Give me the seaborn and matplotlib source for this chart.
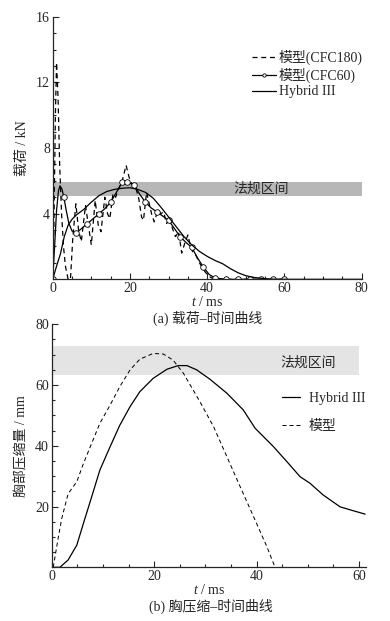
import numpy as np
import seaborn as sns
import matplotlib.pyplot as plt
from matplotlib.ticker import MultipleLocator

# ---- (a) load - time ----
t_cfc180 = [0.0, 0.3, 0.7, 1.0, 1.4, 1.8, 2.3, 2.8, 3.3, 4.0, 4.6, 5.2, 6.0, 6.7, 7.4,
            8.5, 9.3, 10.0, 11.0, 11.8, 12.5, 13.5, 14.2, 14.8, 15.6, 16.3, 17.0, 18.0,
            19.0, 19.8, 20.7, 21.5, 22.3, 23.0, 23.5, 24.3, 25.0, 25.7, 26.3, 27.2, 28.0,
            28.7, 29.5, 30.3, 31.0, 31.8, 32.6, 33.4, 34.2, 35.0, 35.5, 36.2, 37.0, 38.0,
            39.0, 40.0, 41.0, 42.0, 60.0]
f_cfc180 = [0.0, 3.0, 10.0, 13.2, 11.0, 7.0, 4.0, 2.0, 0.8, 0.0, 0.0, 2.5, 4.6, 3.0, 2.3,
            4.5, 3.2, 2.1, 4.8, 3.3, 2.9, 5.0, 4.0, 3.7, 5.2, 5.0, 5.5, 6.0,
            6.95, 6.2, 5.7, 5.6, 4.9, 3.8, 3.6, 5.3, 4.6, 3.9, 3.5, 4.2, 4.0,
            4.1, 3.4, 3.8, 3.1, 2.6, 2.9, 1.6, 2.2, 2.7, 2.2, 1.7, 1.5, 1.0,
            0.6, 0.3, 0.1, 0.0, 0.0]

t_cfc60 = [0.0, 0.5, 1.0, 1.5, 1.9, 2.4, 2.9, 3.5, 4.2, 5.0, 6.0, 7.5, 9.0, 10.5, 12.0,
           13.5, 15.0, 16.5, 18.0, 19.2, 21.0, 22.5, 24.0, 25.5, 27.0, 28.5, 30.0, 31.5,
           33.0, 34.5, 36.0, 37.5, 39.0, 40.5, 42.0, 45.0, 48.0, 51.0, 54.0, 57.0, 60.0]
f_cfc60 = [0.0, 2.0, 4.2, 5.4, 5.7, 5.5, 5.0, 4.2, 3.4, 2.95, 2.8, 3.1, 3.4, 3.7, 4.0,
           4.3, 4.7, 5.3, 5.9, 5.95, 5.75, 5.2, 4.7, 4.35, 4.1, 3.85, 3.6, 3.1,
           2.6, 2.25, 1.95, 1.3, 0.75, 0.3, 0.08, 0.0, 0.0, 0.0, 0.0, 0.0, 0.0]
t_cfc60_marks = [0.0, 2.9, 6.0, 9.0, 12.0, 15.0, 18.0, 19.2, 21.0, 24.0, 27.0, 30.0, 33.0,
                 36.0, 39.0, 42.0, 45.0, 48.0, 51.0, 54.0, 57.0, 60.0]

t_h3_a = [0, 1, 2, 3, 4, 5, 6, 8, 10, 12, 14, 16, 18, 20, 22, 24, 26, 28, 30, 32, 34,
          36, 38, 40, 42, 44, 46, 48, 50, 52, 54, 56, 58, 80]
f_h3_a = [0.0, 0.8, 1.55, 2.6, 3.3, 3.65, 3.9, 4.25, 4.7, 5.1, 5.35, 5.48, 5.55, 5.58,
          5.48, 5.3, 4.95, 4.4, 3.8, 3.2, 2.6, 2.1, 1.7, 1.4, 1.15, 0.95, 0.65, 0.4,
          0.22, 0.12, 0.06, 0.02, 0.0, 0.0]
band_a = (5.1, 5.9)

# ---- (b) chest deflection - time ----
t_h3_b = [0.0, 1.6, 3.2, 4.9, 6.2, 7.8, 9.4, 11.4, 13.3, 15.3, 17.2, 19.8, 22.5, 24.7,
          26.4, 28.3, 30.9, 34.2, 37.4, 39.7, 43.3, 45.9, 48.5, 50.4, 53.0, 56.3, 58.9, 61.2]
d_h3_b = [0.0, 0.0, 2.4, 7.3, 14.5, 23.2, 32.0, 39.7, 46.8, 52.9, 57.8, 62.2, 65.2, 66.4,
          66.4, 65.0, 61.9, 57.3, 51.8, 45.8, 39.7, 34.8, 29.8, 27.7, 23.8, 19.9, 18.6, 17.5]
t_model_b = [0.3, 1.3, 1.95, 3.2, 4.9, 6.2, 7.8, 9.4, 11.4, 13.3, 15.3, 17.2, 19.8, 21.8,
             23.7, 25.7, 27.6, 29.0, 31.6, 34.2, 36.8, 39.4, 42.0, 43.6]
d_model_b = [0.0, 10.0, 16.0, 24.2, 28.2, 34.2, 40.8, 47.4, 53.4, 59.5, 65.0, 68.5, 70.4,
             70.2, 68.2, 63.9, 58.4, 54.3, 46.3, 36.4, 26.5, 16.7, 6.8, 0.0]
band_b = (63.3, 72.9)

sns.set_style("ticks")
plt.rcParams['font.family'] = ['Liberation Serif', 'Noto Sans CJK SC']
plt.rcParams['mathtext.fontset'] = 'custom'
plt.rcParams['mathtext.it'] = 'Liberation Serif:italic'
plt.rcParams['mathtext.rm'] = 'Liberation Serif'
fs = 10

fig = plt.figure(figsize=(3.9, 6.21), dpi=100)
ax1 = fig.add_axes([0.1351, 0.5502, 0.7923, 0.4229])
ax2 = fig.add_axes([0.1326, 0.0865, 0.8051, 0.3913])

lw = 0.9
ax1.axhspan(band_a[0], band_a[1], xmin=0, xmax=1, color='#b7b7b7', lw=0, zorder=0)
sns.lineplot(x=t_cfc180, y=f_cfc180, ax=ax1, color='black', lw=lw, sort=False,
             dashes=False, linestyle=(0, (4, 3)), label='模型(CFC180)')
marks = list(np.where(np.isin(t_cfc60, t_cfc60_marks))[0])
sns.lineplot(x=t_cfc60, y=f_cfc60, ax=ax1, color='black', lw=lw, sort=False,
             marker='o', markevery=marks, markersize=4, markerfacecolor='white',
             markeredgecolor='black', markeredgewidth=0.6, label='模型(CFC60)')
sns.lineplot(x=t_h3_a, y=f_h3_a, ax=ax1, color='black', lw=lw, sort=False,
             label='Hybrid III')
ax1.text(54, 5.48, '法规区间', fontsize=fs, ha='center', va='center')

ax1.set_xlim(0, 80)
ax1.set_ylim(0, 16)
ax1.set_xticks([0, 20, 40, 60, 80])
ax1.set_yticks([4, 8, 12, 16])
ax1.xaxis.set_minor_locator(MultipleLocator(5))
ax1.yaxis.set_minor_locator(MultipleLocator(1))
ax1.set_xlabel('$t$ / ms', fontsize=fs, labelpad=0)
ax1.set_ylabel('载荷 / kN', fontsize=fs, labelpad=5)
ax1.legend(loc='upper left', bbox_to_anchor=(0.644, 0.875), frameon=False, fontsize=fs,
           handlelength=1.75, handletextpad=0.2, labelspacing=0.2, borderpad=0,
           borderaxespad=0, markerscale=0.6)
fig.text(0.532, 1 - 318.5 / 621, '(a) 载荷–时间曲线', fontsize=fs, ha='center', va='center')

ax2.axhspan(band_b[0], band_b[1], xmin=0, xmax=60 / 61.3, color='#e4e4e4', lw=0, zorder=0)
sns.lineplot(x=t_h3_b, y=d_h3_b, ax=ax2, color='black', lw=lw, sort=False,
             label='Hybrid III')
sns.lineplot(x=t_model_b, y=d_model_b, ax=ax2, color='black', lw=lw * 0.8, sort=False,
             linestyle=(0, (4, 3)), label='模型')
ax2.text(50.1, 67.2, '法规区间', fontsize=fs, ha='center', va='center')

ax2.set_xlim(0, 61.3)
ax2.set_ylim(0, 80)
ax2.set_xticks([0, 20, 40, 60])
ax2.set_yticks([20, 40, 60, 80])
ax2.xaxis.set_minor_locator(MultipleLocator(5))
ax2.yaxis.set_minor_locator(MultipleLocator(5))
ax2.set_xlabel('$t$ / ms', fontsize=fs, labelpad=0)
ax2.set_ylabel('胸部压缩量 / mm', fontsize=fs, labelpad=5)
ax2.legend(loc='upper left', bbox_to_anchor=(0.7325, 0.722), frameon=False, fontsize=fs,
           handlelength=1.35, handletextpad=0.6, labelspacing=1.1, borderpad=0,
           borderaxespad=0)
fig.text(0.54, 1 - 606.7 / 621, '(b) 胸压缩–时间曲线', fontsize=fs, ha='center', va='center')

for ax in (ax1, ax2):
    sns.despine(ax=ax)
    ax.tick_params(which='both', direction='in', labelsize=fs, width=0.8, pad=2)
    ax.tick_params(which='major', length=4)
    ax.tick_params(which='minor', length=2)
    for s in ('left', 'bottom'):
        ax.spines[s].set_linewidth(0.9)

fig.savefig('out.png', dpi=100)
